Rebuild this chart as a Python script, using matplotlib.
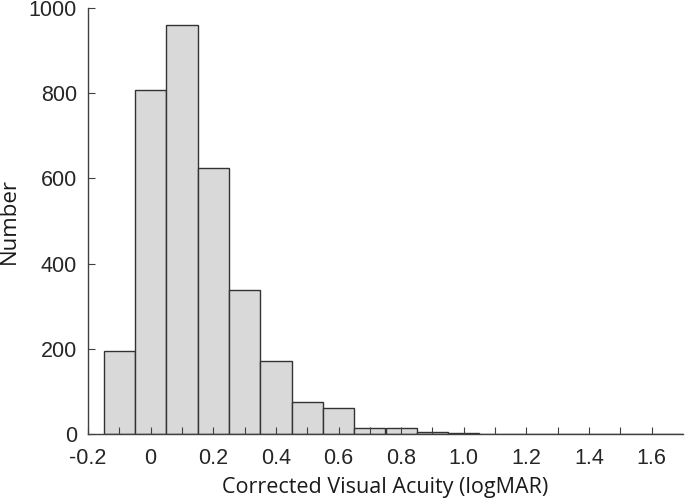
import numpy as np
import matplotlib
matplotlib.use('Agg')
import matplotlib.pyplot as plt

# histogram counts per 0.1 logMAR bin
bin_edges = [-0.15, -0.05, 0.05, 0.15, 0.25, 0.35, 0.45, 0.55, 0.65, 0.75,
             0.85, 0.95, 1.05, 1.15, 1.25, 1.35, 1.45, 1.55, 1.65, 1.75]
counts = [195, 807, 961, 625, 338, 171, 74, 62, 15, 15,
          5, 2, 1, 0, 1, 0, 0, 0, 1]

xtick_vals = [-0.2, 0, 0.2, 0.4, 0.6, 0.8, 1.0, 1.2, 1.4, 1.6]
xtick_labels = ['-0.2', '0', '0.2', '0.4', '0.6', '0.8', '1.0', '1.2', '1.4', '1.6']
ytick_vals = [0, 200, 400, 600, 800, 1000]

plt.rcParams['font.family'] = ['Liberation Sans', 'DejaVu Sans']

fig = plt.figure(figsize=(6.85, 5.01), dpi=100)
ax = fig.add_axes([88/685, 67/501, 595/685, 426/501])

centers = [(bin_edges[i] + bin_edges[i+1]) / 2 for i in range(len(counts))]
ax.hist(centers, bins=bin_edges, weights=counts, color='#d9d9d9',
        edgecolor='#333333', linewidth=1.0)

ax.set_xlim(-0.2, 1.7)
ax.set_ylim(0, 1000)

ax.spines['top'].set_visible(False)
ax.spines['right'].set_visible(False)
for s in ['left', 'bottom']:
    ax.spines[s].set_color('#404040')
    ax.spines[s].set_linewidth(1.0)

ax.set_xticks(xtick_vals)
ax.set_xticklabels(xtick_labels)
ax.set_xticks(np.arange(-0.1, 1.7, 0.2), minor=True)
ax.set_yticks(ytick_vals)
ax.tick_params(axis='both', which='both', direction='in', length=5,
               width=0.8, color='#404040', labelsize=15.5, labelcolor='#262626')
ax.tick_params(axis='x', pad=10)
ax.tick_params(axis='y', pad=8)

ax.set_xlabel('Corrected Visual Acuity (logMAR)', fontsize=15.5,
              family=['Open Sans', 'DejaVu Sans'], color='#1a1a1a', labelpad=6)
ax.set_ylabel('Number', fontsize=16, family=['Open Sans', 'DejaVu Sans'],
              color='#1a1a1a', labelpad=6)

fig.savefig('out.png', dpi=100)
